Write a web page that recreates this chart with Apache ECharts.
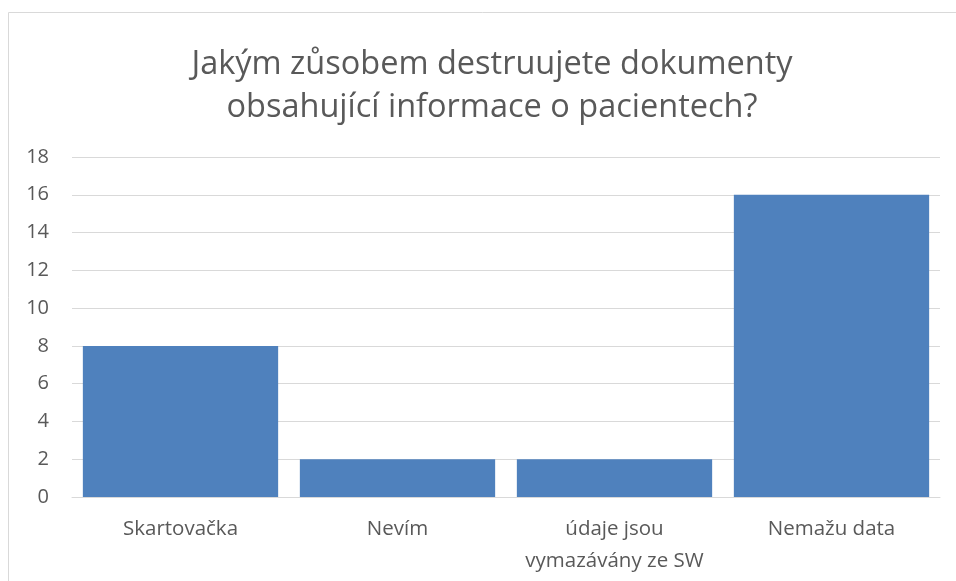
<!DOCTYPE html>
<html><head><meta charset="utf-8">
<script src="https://cdn.jsdelivr.net/npm/echarts@6/dist/echarts.min.js"></script>
<style>html,body{margin:0;padding:0;background:#fff}#c{width:956px;height:581px}</style>
</head><body><div id="c"></div>
<script>
const titleText = 'Jakým zůsobem destruujete dokumenty\nobsahující informace o pacientech?';
const categories = ['Skartovačka', 'Nevím', 'údaje jsou\nvymazávány ze SW', 'Nemažu data'];
const values = [8, 2, 2, 16];
const yTicks = {min: 0, max: 18, interval: 2};
const font = 'Open Sans';
const chart = echarts.init(document.getElementById('c'));
chart.setOption({
  animation: false,
  graphic: [{type: 'rect', shape: {x: 8.5, y: 12.5, width: 980, height: 600}, style: {fill: 'none', stroke: '#d9d9d9', lineWidth: 1}, silent: true}],
  title: {text: titleText, left: 487, textAlign: 'center', top: 38,
    textStyle: {fontFamily: font, fontSize: 32.5, fontWeight: 'normal', color: '#595959', lineHeight: 43}},
  grid: {left: 72, right: 16, top: 157, bottom: 84, containLabel: false},
  xAxis: {type: 'category', data: categories,
    axisLine: {lineStyle: {color: '#d9d9d9'}}, axisTick: {show: false},
    axisLabel: {fontFamily: font, fontSize: 20.5, color: '#595959', margin: 16, lineHeight: 32, interval: 0}},
  yAxis: {type: 'value', min: yTicks.min, max: yTicks.max, interval: yTicks.interval,
    axisLine: {show: false}, axisTick: {show: false},
    axisLabel: {fontFamily: font, fontSize: 20, color: '#595959', margin: 23},
    splitLine: {lineStyle: {color: '#d9d9d9', width: 1}}},
  series: [{type: 'bar', data: values, barCategoryGap: '10%', itemStyle: {color: '#4f81bd'}}]
});
</script></body></html>
